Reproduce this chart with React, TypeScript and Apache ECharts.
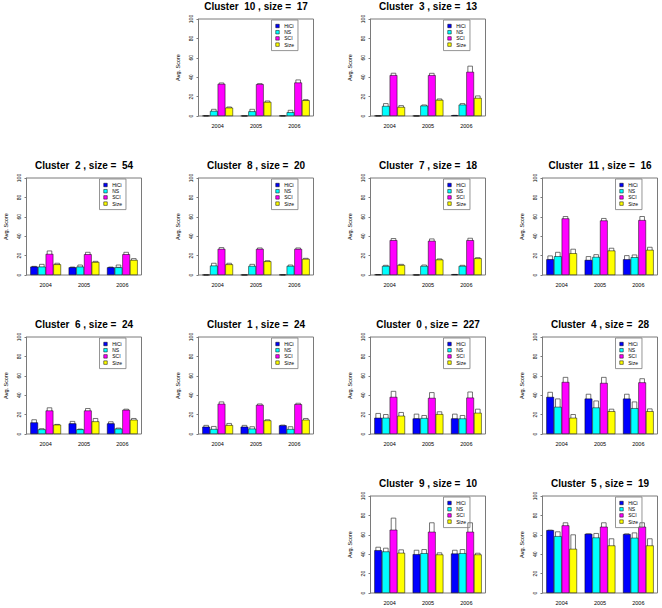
import React, { useEffect, useRef } from 'react';
import * as echarts from 'echarts';

const years = ['2004', '2005', '2006'];
const measures = ['HiCi', 'NS', 'SCI', 'Size'];
const yTicks = [0, 20, 40, 60, 80, 100];

// rows: HiCi, NS, SCI, Size ; columns: 2004, 2005, 2006
const c10Mean = [[0.3, 0.2, 0.3], [5.2, 4.8, 3.8], [33.1, 32.8, 34.5], [8.6, 14.5, 16.2]];
const c10Lo = [[0.3, 0.2, 0.3], [3.4, 3.8, 2.8], [31.7, 31.4, 33.1], [7.9, 13.8, 15.5]];
const c10Hi = [[0.3, 0.2, 0.3], [6.9, 6.9, 5.9], [34.1, 33.4, 37.2], [9.3, 15.5, 16.9]];

const c3Mean = [[0.3, 0.2, 0.7], [10.3, 10.7, 11.7], [42.1, 42.1, 45.5], [9.3, 16.6, 18.6]];
const c3Lo = [[0.3, 0.2, 0.7], [8.6, 9.7, 10.7], [38.6, 39.6, 38.6], [7.9, 15.9, 17.2]];
const c3Hi = [[0.3, 0.2, 0.7], [12.8, 11.4, 12.8], [44.1, 44.0, 51.4], [10.7, 17.6, 20.7]];

const c2Mean = [[8.6, 7.9, 7.9], [8.6, 8.6, 7.9], [21.7, 21.4, 21.4], [11.0, 13.4, 15.5]];
const c2Lo = [[8.3, 7.6, 7.6], [7.9, 7.9, 7.9], [20.0, 20.3, 20.3], [10.3, 12.8, 14.5]];
const c2Hi = [[8.9, 8.2, 8.2], [11.0, 10.3, 10.3], [24.8, 23.4, 23.4], [12.1, 14.1, 16.9]];

const c8Mean = [[0.2, 0.2, 0.3], [9.7, 9.3, 9.3], [26.9, 26.9, 26.9], [11.0, 14.1, 16.6]];
const c8Lo = [[0.2, 0.2, 0.3], [8.6, 7.9, 7.9], [25.5, 25.9, 26.2], [10.0, 13.1, 15.2]];
const c8Hi = [[0.2, 0.2, 0.3], [12.1, 11.0, 10.3], [28.3, 27.9, 27.9], [12.1, 14.8, 17.2]];

const c7Mean = [[0.5, 0.2, 0.6], [9.3, 9.3, 9.3], [35.9, 35.2, 35.9], [10.3, 15.9, 17.2]];
const c7Lo = [[0.5, 0.2, 0.6], [8.3, 7.9, 7.9], [34.8, 33.8, 34.8], [9.7, 15.2, 16.2]];
const c7Hi = [[0.5, 0.2, 0.6], [10.0, 10.3, 10.0], [37.6, 37.2, 37.9], [11.0, 16.6, 17.9]];

const c11Mean = [[16.2, 15.5, 16.2], [19.3, 18.6, 18.3], [58.3, 56.2, 56.6], [22.4, 25.2, 25.9]];
const c11Lo = [[15.5, 14.8, 14.1], [16.9, 16.6, 15.5], [56.2, 54.8, 54.1], [20.3, 23.1, 23.1]];
const c11Hi = [[19.7, 19.0, 20.0], [23.4, 21.0, 20.7], [60.3, 58.3, 60.3], [26.6, 27.6, 28.6]];

const c6Mean = [[11.9, 10.9, 10.9], [4.8, 4.8, 5.5], [24.2, 24.2, 24.9], [9.6, 13.0, 14.7]];
const c6Lo = [[10.9, 10.2, 10.2], [2.0, 4.1, 3.4], [22.9, 22.9, 24.2], [8.9, 11.6, 11.6]];
const c6Hi = [[14.7, 13.0, 12.6], [5.5, 5.1, 6.1], [27.0, 26.3, 25.6], [9.9, 16.0, 16.0]];

const c1Mean = [[7.5, 7.5, 8.9], [5.1, 5.5, 5.1], [31.1, 30.0, 30.7], [9.2, 14.0, 14.7]];
const c1Lo = [[6.8, 6.8, 7.8], [2.7, 2.7, 2.7], [28.3, 29.0, 29.4], [8.2, 12.6, 13.3]];
const c1Hi = [[8.9, 8.9, 9.2], [7.8, 7.5, 7.5], [33.1, 31.0, 31.7], [10.9, 14.7, 16.0]];

const c0Mean = [[16.7, 16.0, 16.0], [16.7, 16.4, 16.0], [38.2, 37.2, 37.5], [18.8, 20.5, 21.8]];
const c0Lo = [[15.4, 15.7, 15.4], [13.0, 12.3, 12.3], [32.4, 32.4, 32.4], [14.7, 17.7, 18.1]];
const c0Hi = [[21.2, 20.5, 20.5], [20.1, 19.1, 19.1], [44.0, 42.7, 43.3], [22.2, 22.9, 25.6]];

const c4Mean = [[38.2, 36.5, 36.5], [28.0, 27.3, 26.6], [53.6, 52.6, 53.2], [16.7, 23.5, 23.5]];
const c4Lo = [[33.8, 30.0, 31.4], [21.5, 21.5, 20.8], [48.1, 47.4, 47.0], [12.6, 19.8, 20.5]];
const c4Hi = [[43.0, 41.0, 41.0], [36.2, 34.1, 33.1], [58.4, 58.4, 57.0], [20.1, 25.6, 25.9]];

const c9Mean = [[44.1, 40.0, 40.7], [42.8, 41.0, 41.0], [65.2, 63.1, 63.1], [41.4, 39.7, 39.7]];
const c9Lo = [[40.3, 37.2, 38.3], [39.7, 37.9, 36.2], [56.2, 55.9, 55.2], [36.9, 36.2, 35.2]];
const c9Hi = [[47.2, 44.1, 44.1], [46.2, 44.8, 44.8], [77.2, 72.4, 72.4], [44.5, 41.4, 41.0]];

const c5Mean = [[64.8, 61.0, 60.7], [58.6, 57.2, 56.9], [69.7, 68.3, 68.3], [45.5, 49.0, 49.0]];
const c5Lo = [[63.4, 59.3, 59.3], [50.0, 50.0, 49.0], [64.8, 64.5, 63.8], [29.3, 36.2, 37.9]];
const c5Hi = [[64.8, 61.0, 61.0], [63.1, 61.4, 62.0], [72.4, 72.4, 72.4], [60.0, 55.9, 55.9]];

const clusterIds = [10, 3, 2, 8, 7, 11, 6, 1, 0, 4, 9, 5];
const clusterSizes = [17, 13, 54, 20, 18, 16, 24, 24, 227, 28, 10, 19];
const clusterMeans = [c10Mean, c3Mean, c2Mean, c8Mean, c7Mean, c11Mean, c6Mean, c1Mean, c0Mean, c4Mean, c9Mean, c5Mean];
const clusterLos = [c10Lo, c3Lo, c2Lo, c8Lo, c7Lo, c11Lo, c6Lo, c1Lo, c0Lo, c4Lo, c9Lo, c5Lo];
const clusterHis = [c10Hi, c3Hi, c2Hi, c8Hi, c7Hi, c11Hi, c6Hi, c1Hi, c0Hi, c4Hi, c9Hi, c5Hi];

// layout (row, col) of each panel
const panelRows = [0, 0, 1, 1, 1, 1, 2, 2, 2, 2, 3, 3];
const panelCols = [1, 2, 0, 1, 2, 3, 0, 1, 2, 3, 2, 3];

const COLORS = ['#0000FF', '#00FFFF', '#FF00FF', '#FFFF00'];
const FONT = 'Liberation Sans, Arial, Helvetica, sans-serif';
const COL_LEFT = [26.5, 198.5, 370.5, 542.5];
const ROW_TOP = [19, 178, 337, 496];
const GW = 115;
const GH = 97;
const LINE = '#7a7a7a';

function buildOption() {
  const grid: any[] = [];
  const xAxis: any[] = [];
  const yAxis: any[] = [];
  const series: any[] = [];
  const legend: any[] = [];
  const graphic: any[] = [];

  clusterIds.forEach((cid, p) => {
    const left = COL_LEFT[panelCols[p]];
    const top = ROW_TOP[panelRows[p]];
    grid.push({
      left, top, width: GW, height: GH,
      show: true, borderColor: LINE, borderWidth: 1, backgroundColor: 'transparent',
    });
    xAxis.push({
      type: 'category', gridIndex: p, data: years,
      axisLine: { show: false }, axisTick: { show: false },
      axisLabel: { fontSize: 5.5, fontFamily: FONT, color: '#000', margin: 7 },
    });
    yAxis.push({
      type: 'value', gridIndex: p, min: 0, max: 100, interval: 20,
      name: 'Avg. Score', nameLocation: 'middle', nameRotate: 90, nameGap: 18,
      nameTextStyle: { fontSize: 5.5, fontFamily: FONT, color: '#000' },
      axisLine: { show: true, lineStyle: { color: LINE, width: 1 } },
      axisTick: { show: true, length: 2, lineStyle: { color: LINE } },
      splitLine: { show: false },
      axisLabel: { rotate: 90, fontSize: 5, fontFamily: FONT, color: '#000', margin: 5,
        formatter: (v: number) => (yTicks.includes(v) ? String(v) : '') },
    });
    const mean = clusterMeans[p];
    const lo = clusterLos[p];
    const hi = clusterHis[p];
    measures.forEach((m, mi) => {
      series.push({
        type: 'bar', name: m, xAxisIndex: p, yAxisIndex: p,
        data: mean[mi],
        barGap: '0%', barCategoryGap: '20%',
        itemStyle: { color: COLORS[mi], borderColor: '#000', borderWidth: 0.5 },
        emphasis: { disabled: true },
      });
    });
    const errData: number[][] = [];
    measures.forEach((_m, mi) => {
      years.forEach((_y, yi) => {
        errData.push([yi, mi, lo[mi][yi], hi[mi][yi]]);
      });
    });
    series.push({
      type: 'custom', xAxisIndex: p, yAxisIndex: p, data: errData,
      encode: { x: 0, y: [2, 3] },
      silent: true,
      renderItem: (_params: any, api: any) => {
        const yi = api.value(0);
        const mi = api.value(1);
        const pLo = api.coord([yi, api.value(2)]);
        const pHi = api.coord([yi, api.value(3)]);
        const band = api.size([1, 0])[0];
        const bw = band * 0.2;
        const cx = pLo[0] + (mi - 1.5) * bw;
        const w = bw * 0.6;
        return {
          type: 'rect',
          shape: { x: cx - w / 2, y: pHi[1], width: w, height: Math.max(pLo[1] - pHi[1], 0.3) },
          style: { fill: 'none', stroke: '#3a3a3a', lineWidth: 0.7 },
        };
      },
    });
    legend.push({
      show: true, orient: 'vertical', left: left + 73, top: top + 1,
      data: measures, icon: 'rect', itemWidth: 3.5, itemHeight: 3.5, itemGap: 0.2,
      padding: [3, 4, 3, 4], borderColor: LINE, borderWidth: 0.8,
      itemStyle: { borderColor: '#000', borderWidth: 0.5 },
      textStyle: { fontSize: 5, lineHeight: 6, fontFamily: FONT, color: '#000' },
      selectedMode: false,
    });
    graphic.push({
      type: 'text', x: left + GW / 2, y: top - 12.5,
      style: {
        text: `Cluster  ${cid} , size =  ${clusterSizes[p]}`,
        fontSize: 10, fontWeight: 'bold', fontFamily: FONT, fill: '#000',
        align: 'center', verticalAlign: 'middle', textAlign: 'center', textVerticalAlign: 'middle',
      },
    });
  });

  return {
    animation: false,
    backgroundColor: '#fff',
    grid, xAxis, yAxis, series, legend, graphic,
  };
}

export default function App() {
  const ref = useRef<HTMLDivElement>(null);
  useEffect(() => {
    if (!ref.current) return;
    const chart = echarts.init(ref.current, undefined, { renderer: 'svg' });
    chart.setOption(buildOption() as any);
    return () => chart.dispose();
  }, []);
  return <div ref={ref} style={{ position: 'fixed', left: 0, top: 0, width: 662, height: 608, background: '#fff' }} />;
}
